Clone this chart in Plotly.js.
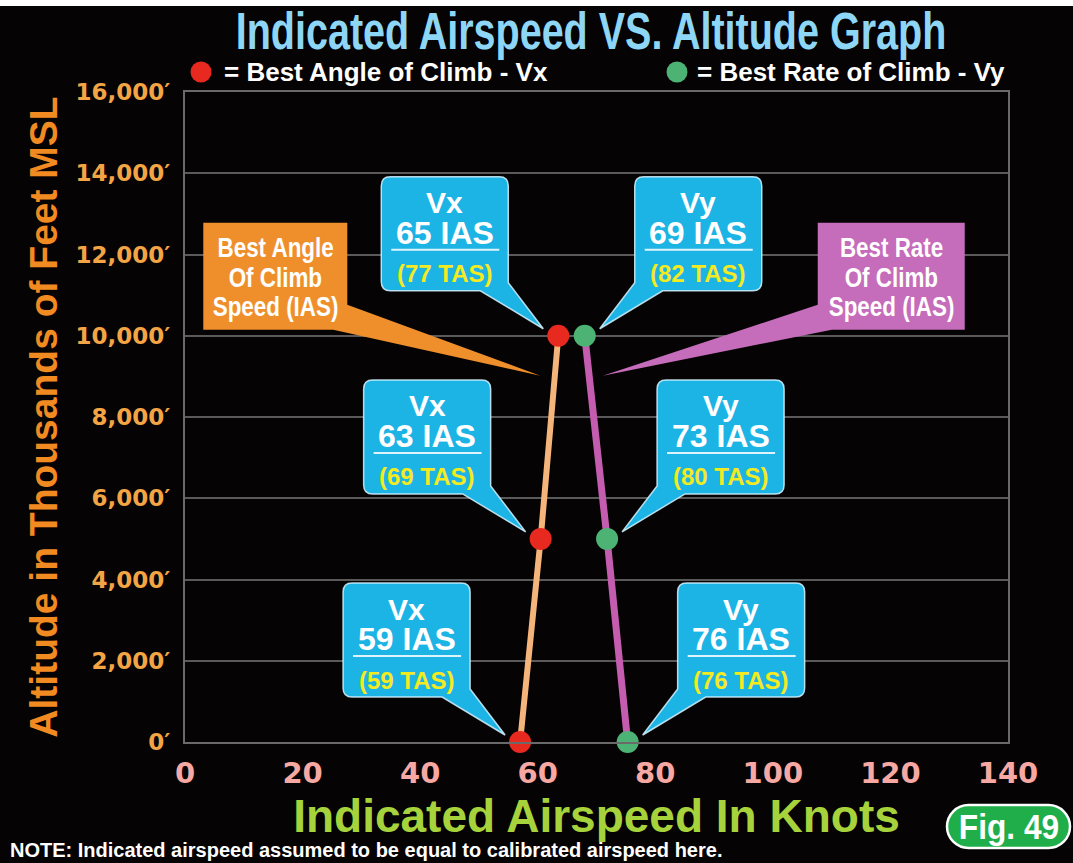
<!DOCTYPE html>
<html><head><meta charset="utf-8">
<script src="https://cdn.plot.ly/plotly-3.0.1.min.js"></script>
<style>html,body{margin:0;padding:0;background:#000;overflow:hidden}</style>
</head><body><div id="chart" style="width:1073px;height:863px"></div>
<script>
// ---- data ----
const altitudes = [0, 5000, 10000];
const vxIAS = [57, 60.5, 63.5];      // plotted positions (as drawn)
const vyIAS = [75.3, 71.8, 68];
const vxLabelIAS = ['59', '63', '65'];
const vxLabelTAS = ['59', '69', '77'];
const vyLabelIAS = ['76', '73', '69'];
const vyLabelTAS = ['76', '80', '82'];
const xTickVals = [0, 20, 40, 60, 80, 100, 120, 140];
const yTickVals = [0, 2000, 4000, 6000, 8000, 10000, 12000, 14000, 16000];
const yTickText = ['0\u2032', '2,000\u2032', '4,000\u2032', '6,000\u2032', '8,000\u2032', '10,000\u2032', '12,000\u2032', '14,000\u2032', '16,000\u2032'];

// ---- layout geometry ----
const W = 1073, H = 863, PL = 185, PR = 1008, PT = 92, PB = 742;
const paperX = px => (px - PL) / (PR - PL);
const paperY = py => (PB - py) / (PB - PT);

const fBold = '"Liberation Sans", Arial, sans-serif';
const fHeavy = '"DejaVu Sans", sans-serif';

const CYAN = '#1cb3e5', ORANGE = '#ef8f2c', PURPLE = '#c56cba', YEL = '#f3ea1f';
const shapes = [], annotations = [];
const condensed = {};   // text -> horizontal scale

function calloutPath(L, R, B, T, r, side, tip) {
  if (side < 0) {
    return `M${L+r},${T} L${R-r},${T} Q${R},${T} ${R},${T-r} L${R},${B+8} L${tip[0]},${tip[1]} L${R-28},${B} L${L+r},${B} Q${L},${B} ${L},${B+r} L${L},${T-r} Q${L},${T} ${L+r},${T} Z`;
  }
  return `M${L+r},${T} L${R-r},${T} Q${R},${T} ${R},${T-r} L${R},${B+r} Q${R},${B} ${R-r},${B} L${L+28},${B} L${tip[0]},${tip[1]} L${L},${B+8} L${L},${T-r} Q${L},${T} ${L+r},${T} Z`;
}
function txt(x, y, dx, up, text, size, color) {
  annotations.push({xref: 'x', yref: 'y', x: x, y: y, xshift: dx, yshift: up, text: text,
    showarrow: false, xanchor: 'center', yanchor: 'middle',
    font: {family: fBold, size: size, color: color, weight: 'bold'}});
}
function speedCallout(x, y, side, name, ias, tas) {
  const L = side < 0 ? -177 : 50, R = side < 0 ? -50 : 177, B = 45, T = 159;
  const tip = [side * 15, 7];
  shapes.push({type: 'path', xref: 'x', yref: 'y', xsizemode: 'pixel', ysizemode: 'pixel',
    xanchor: x, yanchor: y, path: calloutPath(L, R, B, T, 9, side, tip),
    fillcolor: CYAN, line: {color: 'rgba(215,243,255,0.85)', width: 1.5}});
  shapes.push({type: 'line', xref: 'x', yref: 'y', xsizemode: 'pixel', ysizemode: 'pixel',
    xanchor: x, yanchor: y, x0: L + 10, x1: R - 9, y0: T - 73, y1: T - 73,
    line: {color: '#def4fc', width: 2}});
  const cx = (L + R) / 2;
  txt(x, y, cx, T - 26, name, 30, '#ffffff');
  txt(x, y, cx, T - 56, ias + ' IAS', 32, '#ffffff');
  txt(x, y, cx, T - 97, '(' + tas + ' TAS)', 24, YEL);
}
altitudes.forEach((a, i) => {
  speedCallout(vxIAS[i], a, -1, 'Vx', vxLabelIAS[i], vxLabelTAS[i]);
  speedCallout(vyIAS[i], a, 1, 'Vy', vyLabelIAS[i], vyLabelTAS[i]);
});

// big explanatory callouts anchored on the 10,000 ft points
function bigCallout(x, y, side, color, lines) {
  let path, cx;
  const B = 6, T = 113;
  if (side < 0) {
    const L = -355, R = -211; cx = (L + R) / 2;
    path = `M${L},${T} L${R},${T} L${R},31 L-18,-40 L${R-14},${B} L${L},${B} Z`;
  } else {
    const L = 233, R = 380; cx = (L + R) / 2;
    path = `M${L},${T} L${R},${T} L${R},${B} L${L+14},${B} L18,-40 L${L},31 Z`;
  }
  shapes.push({type: 'path', xref: 'x', yref: 'y', xsizemode: 'pixel', ysizemode: 'pixel',
    xanchor: x, yanchor: y, path: path, fillcolor: color, line: {width: 0}});
  const ups = [88, 58, 29];
  lines.forEach((t, k) => { txt(x, y, cx, ups[k], t, 28, '#ffffff'); condensed[t] = 0.8; });
}
bigCallout(vxIAS[2], altitudes[2], -1, ORANGE, ['Best Angle', 'Of Climb', 'Speed (IAS)']);
bigCallout(vyIAS[2], altitudes[2], 1, PURPLE, ['Best Rate', 'Of Climb', 'Speed (IAS)']);

// top white strip
shapes.push({type: 'rect', xref: 'paper', yref: 'paper', x0: paperX(0), x1: paperX(W), y0: paperY(6), y1: paperY(-2),
  fillcolor: '#ffffff', line: {width: 0}, layer: 'above'});

// legend markers + text
function legendDot(px, py, color) {
  shapes.push({type: 'circle', xref: 'paper', yref: 'paper', xsizemode: 'pixel', ysizemode: 'pixel',
    xanchor: paperX(px), yanchor: paperY(py), x0: -10.5, x1: 10.5, y0: -10.5, y1: 10.5,
    fillcolor: color, line: {width: 0}});
}
legendDot(201, 72, '#e8291f');
legendDot(677, 72, '#4db374');
annotations.push({xref: 'paper', yref: 'paper', x: paperX(222), y: paperY(72), xanchor: 'left', yanchor: 'middle',
  showarrow: false, text: '= Best Angle of Climb - Vx', font: {family: fBold, size: 26, color: '#ffffff', weight: 'bold'}});
annotations.push({xref: 'paper', yref: 'paper', x: paperX(695), y: paperY(72), xanchor: 'left', yanchor: 'middle',
  showarrow: false, text: '= Best Rate of Climb - Vy', font: {family: fBold, size: 26, color: '#ffffff', weight: 'bold'}});

// Fig. 49 pill
(function () {
  const hw = 61.5, hh = 21.5, r = 21.5, k = 0.55 * r;
  const p = `M${-hw+r},${hh} L${hw-r},${hh} C${hw-r+k},${hh} ${hw},${k} ${hw},0 C${hw},${-k} ${hw-r+k},${-hh} ${hw-r},${-hh} L${-hw+r},${-hh} C${-hw+r-k},${-hh} ${-hw},${-k} ${-hw},0 C${-hw},${k} ${-hw+r-k},${hh} ${-hw+r},${hh} Z`;
  shapes.push({type: 'path', xref: 'paper', yref: 'paper', xsizemode: 'pixel', ysizemode: 'pixel',
    xanchor: paperX(1008.5), yanchor: paperY(826.5), path: p, fillcolor: '#1fae4a', line: {color: '#ffffff', width: 2.5}});
  annotations.push({xref: 'paper', yref: 'paper', x: paperX(1009), y: paperY(826), xanchor: 'center', yanchor: 'middle',
    showarrow: false, text: 'Fig. 49', font: {family: fBold, size: 36, color: '#ffffff', weight: 'bold'}});
  condensed['Fig. 49'] = 0.88;
})();

// note
annotations.push({xref: 'paper', yref: 'paper', x: paperX(8), y: paperY(850), xanchor: 'left', yanchor: 'middle',
  showarrow: false, text: 'NOTE: Indicated airspeed assumed to be equal to calibrated airspeed here.',
  font: {family: fBold, size: 20, color: '#ffffff', weight: 'bold'}});

const traces = [
  {x: vxIAS, y: altitudes, type: 'scatter', mode: 'lines+markers', name: 'Best Angle of Climb - Vx',
   line: {color: '#f5b47a', width: 6}, marker: {color: '#e8291f', size: 22}, cliponaxis: false},
  {x: vyIAS, y: altitudes, type: 'scatter', mode: 'lines+markers', name: 'Best Rate of Climb - Vy',
   line: {color: '#c45cb0', width: 7}, marker: {color: '#4db374', size: 22}, cliponaxis: false}
];

const layout = {
  width: W, height: H,
  margin: {l: PL, r: W - PR, t: PT, b: H - PB, pad: 0},
  paper_bgcolor: '#050303', plot_bgcolor: '#050303',
  showlegend: false,
  title: {text: 'Indicated Airspeed VS. Altitude Graph', xref: 'container', x: 591 / W, xanchor: 'center',
    yref: 'container', y: 1 - 31 / H, yanchor: 'middle',
    font: {family: fBold, size: 52, color: '#8ed6f6', weight: 'bold'}},
  xaxis: {range: [0, 140], tickvals: xTickVals, showgrid: false, zeroline: false,
    showline: true, mirror: true, linecolor: '#6a6a6a', linewidth: 2, ticks: '', ticklabelstandoff: 4,
    tickfont: {family: fHeavy, size: 29, color: '#f7a8a2', weight: 'bold'},
    title: {text: 'Indicated Airspeed In Knots', standoff: 3,
      font: {family: fBold, size: 46, color: '#a6d33c', weight: 'bold'}}},
  yaxis: {range: [0, 16000], tickvals: yTickVals, ticktext: yTickText, showgrid: true, gridcolor: '#5a5a5a', gridwidth: 2,
    zeroline: false, showline: true, mirror: true, linecolor: '#6a6a6a', linewidth: 2, ticks: '', ticklabelstandoff: 8,
    tickfont: {family: fHeavy, size: 23, color: '#f3a545', weight: 'bold'},
    title: {text: 'Altitude in Thousands of Feet MSL', standoff: 6,
      font: {family: fBold, size: 39, color: '#f28a22', weight: 'bold'}}},
  shapes: shapes,
  annotations: annotations
};

function condenseText(el, s) {
  const bb = el.getBBox();
  const cx = bb.x + bb.width / 2;
  const prev = el.getAttribute('transform') || '';
  el.setAttribute('transform', (prev + ` translate(${cx},0) scale(${s},1) translate(${-cx},0)`).trim());
}
Plotly.newPlot('chart', traces, layout, {staticPlot: true, displayModeBar: false}).then(gd => {
  gd.querySelectorAll('text.annotation-text').forEach(el => {
    const s = condensed[el.textContent];
    if (s) condenseText(el, s);
  });
  const t = gd.querySelector('text.gtitle');
  if (t) condenseText(t, 0.76);
});
</script></body></html>
